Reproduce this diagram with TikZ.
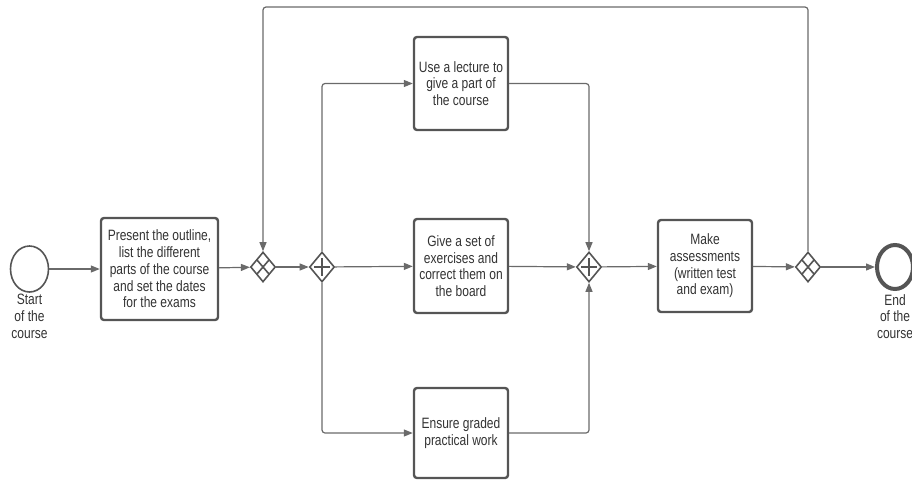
\documentclass[tikz,border=0pt]{standalone}
\usepackage{fontspec}
\setmainfont[FakeStretch=0.8]{Liberation Sans}
\usetikzlibrary{shapes.geometric,arrows.meta}
\definecolor{edge}{HTML}{6A6A6A}
\definecolor{frame}{HTML}{555555}
\definecolor{ink}{HTML}{333333}
\tikzset{
  task/.style={draw=frame, line width=2.4pt, rounded corners=3pt, fill=white,
    inner sep=0pt, align=center, text=ink,
    font=\fontsize{15}{16.7}\selectfont},
  event/.style={ellipse, draw=frame, fill=white, inner sep=0pt,
    minimum width=38pt, minimum height=46pt},
  gate/.style={diamond, draw=frame, line width=1.6pt, fill=white, inner sep=0pt,
    minimum width=25pt, minimum height=30pt},
  xorgate/.style={gate, path picture={
    \draw[frame, line width=1.6pt]
      ([shift={(-6,-7)}]path picture bounding box.center) -- ([shift={(6,7)}]path picture bounding box.center)
      ([shift={(-6,7)}]path picture bounding box.center) -- ([shift={(6,-7)}]path picture bounding box.center);}},
  andgate/.style={gate, path picture={
    \draw[frame, line width=1.6pt]
      ([shift={(-8,0)}]path picture bounding box.center) -- ([shift={(8,0)}]path picture bounding box.center)
      ([shift={(0,-9)}]path picture bounding box.center) -- ([shift={(0,9)}]path picture bounding box.center);}},
  flow/.style={draw=edge, line width=1.2pt, rounded corners=3pt,
    -{Triangle[length=9pt,width=7pt]}},
  line/.style={draw=edge, line width=1.2pt, rounded corners=3pt},
  caption/.style={align=center, text=ink, inner sep=0pt,
    font=\fontsize{15}{16.7}\selectfont}
}
\begin{document}
\begin{tikzpicture}[x=1pt,y=-1pt]
  \useasboundingbox (0,0) rectangle (912,480);

  % events
  \node[event, line width=1.6pt] (start) at (29.5,269) {};
  \node[caption, anchor=north] (startlbl) at (29.5,294) {Start\\of the\\course};
  \node[event, line width=4pt, minimum width=36pt, minimum height=44pt] (end) at (895,267) {};
  \node[caption, anchor=north] (endlbl) at (895,294) {End\\of the\\course};

  % tasks
  \node[task, minimum width=117pt, minimum height=102pt] (outline) at (159.5,269)
    {Present the outline,\\list the different\\parts of the course\\and set the dates\\for the exams};
  \node[task, minimum width=94pt, minimum height=93pt] (lecture) at (461,83.5)
    {Use a lecture to\\give a part of\\the course};
  \node[task, minimum width=94pt, minimum height=94pt] (exercises) at (461,266)
    {Give a set of\\exercises and\\correct them on\\the board};
  \node[task, minimum width=94pt, minimum height=90pt] (practical) at (461,433)
    {Ensure graded\\practical work};
  \node[task, minimum width=94pt, minimum height=92pt] (assess) at (705,266)
    {Make\\assessments\\(written test\\and exam)};

  % gateways
  \node[xorgate] (merge) at (263,267) {};
  \node[andgate] (fork) at (322,267) {};
  \node[andgate] (join) at (589,267) {};
  \node[xorgate] (decide) at (808,267) {};

  % sequence flows
  \draw[flow] (start) -- (outline);
  \draw[flow] (outline) -- (merge);
  \draw[flow] (merge) -- (fork);
  \draw[flow] (fork.north) |- (lecture.west);
  \draw[flow] (fork) -- (exercises);
  \draw[flow] (fork.south) |- (practical.west);
  \draw[flow] (lecture.east) -| (join.north);
  \draw[flow] (exercises) -- (join);
  \draw[flow] (practical.east) -| (join.south);
  \draw[flow] (join) -- (assess);
  \draw[flow] (assess) -- (decide);
  \draw[flow] (decide) -- (end);

  % loop back to the start of the course units
  \coordinate (looptop) at (536,7);
  \draw[flow] (decide.north) |- (looptop) -| (merge.north);
\end{tikzpicture}
\end{document}
